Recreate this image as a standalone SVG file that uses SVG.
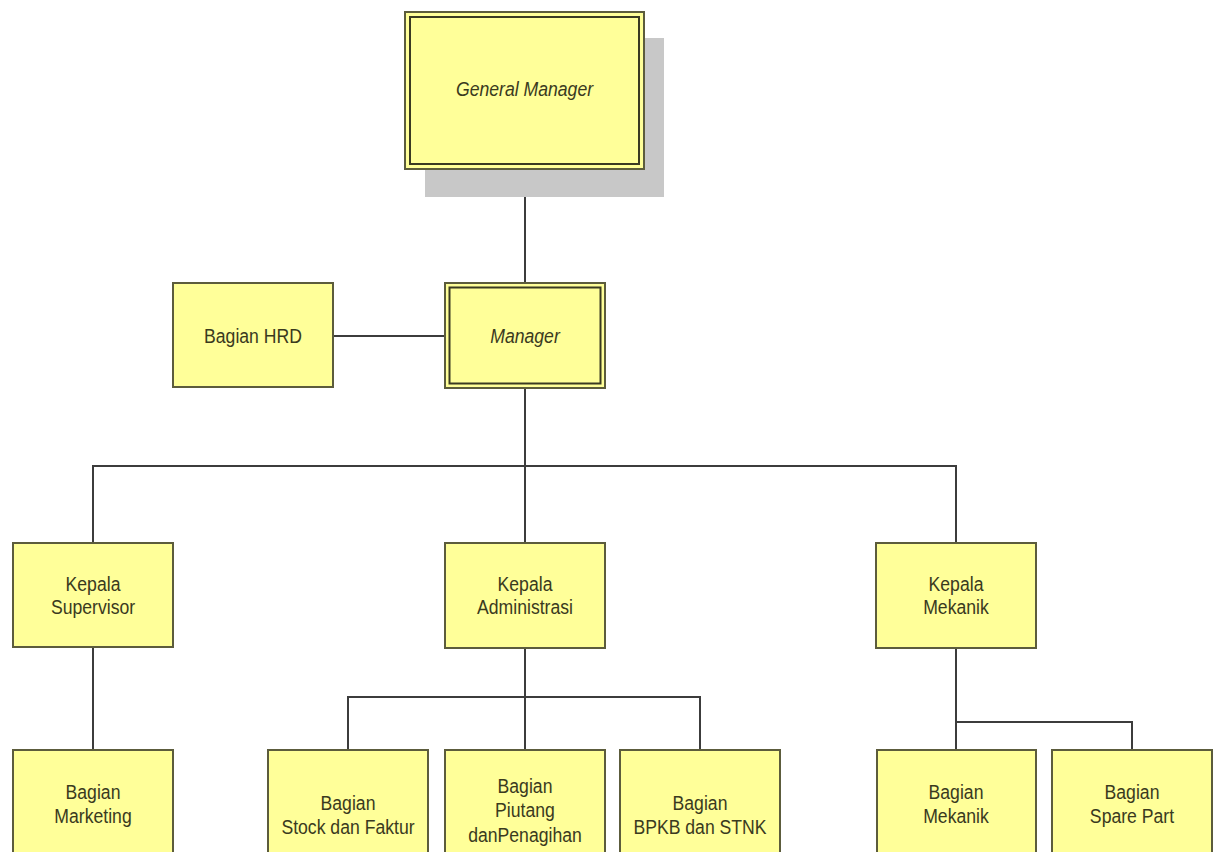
<svg xmlns="http://www.w3.org/2000/svg" width="1221" height="852" viewBox="0 0 1221 852">
<style>
.box{fill:#FFFF99;stroke:#5c5c3c;stroke-width:2}
.inner{fill:none;stroke:#3a3a22;stroke-width:2}
.shadow{fill:#c8c8c8}
.conn{stroke:#3c3c3c;stroke-width:2;fill:none}
text{font-family:"Liberation Sans",Arial,sans-serif;font-size:21px;fill:#3a3a1e;text-anchor:middle}
.it{font-style:italic}
</style>
<rect width="1221" height="852" fill="#ffffff"/>
<g id="connectors">
<path class="conn" d="M525 170V283"/>
<path class="conn" d="M333 336H445"/>
<path class="conn" d="M525 389V543"/>
<path class="conn" d="M93 543V466H956V543"/>
<path class="conn" d="M93 647V750"/>
<path class="conn" d="M525 648V750"/>
<path class="conn" d="M348 750V697H700V750"/>
<path class="conn" d="M956 648V722H1132V750"/>
<path class="conn" d="M956 722V750"/>
</g>
<g id="general-manager">
<rect class="shadow" x="425" y="38" width="239" height="159"/>
<rect class="box" x="405" y="12" width="239" height="157"/>
<rect class="inner" x="410" y="17" width="229" height="147"/>
<text class="it" transform="translate(524.5 96) scale(0.84 1)">General Manager</text>
</g>
<g id="bagian-hrd">
<rect class="box" x="173" y="283" width="160" height="104"/>
<text transform="translate(253 343) scale(0.84 1)">Bagian HRD</text>
</g>
<g id="manager">
<rect class="box" x="445" y="283" width="160" height="105"/>
<rect class="inner" x="449.5" y="287.5" width="151" height="96"/>
<text class="it" transform="translate(525 343) scale(0.84 1)">Manager</text>
</g>
<g id="kepala-supervisor">
<rect class="box" x="13" y="543" width="160" height="104"/>
<text transform="translate(93 591) scale(0.84 1)">Kepala</text>
<text transform="translate(93 614) scale(0.84 1)">Supervisor</text>
</g>
<g id="kepala-administrasi">
<rect class="box" x="445" y="543" width="160" height="105"/>
<text transform="translate(525 591) scale(0.84 1)">Kepala</text>
<text transform="translate(525 614) scale(0.84 1)">Administrasi</text>
</g>
<g id="kepala-mekanik">
<rect class="box" x="876" y="543" width="160" height="105"/>
<text transform="translate(956 591) scale(0.84 1)">Kepala</text>
<text transform="translate(956 614) scale(0.84 1)">Mekanik</text>
</g>
<g id="bagian-marketing">
<rect class="box" x="13" y="750" width="160" height="120"/>
<text transform="translate(93 799) scale(0.84 1)">Bagian</text>
<text transform="translate(93 823) scale(0.84 1)">Marketing</text>
</g>
<g id="bagian-stock">
<rect class="box" x="268" y="750" width="160" height="120"/>
<text transform="translate(348 810) scale(0.84 1)">Bagian</text>
<text transform="translate(348 834) scale(0.84 1)">Stock dan Faktur</text>
</g>
<g id="bagian-piutang">
<rect class="box" x="445" y="750" width="160" height="120"/>
<text transform="translate(525 793) scale(0.84 1)">Bagian</text>
<text transform="translate(525 817) scale(0.84 1)">Piutang</text>
<text transform="translate(525 842) scale(0.84 1)">danPenagihan</text>
</g>
<g id="bagian-bpkb">
<rect class="box" x="620" y="750" width="160" height="120"/>
<text transform="translate(700 810) scale(0.84 1)">Bagian</text>
<text transform="translate(700 834) scale(0.84 1)">BPKB dan STNK</text>
</g>
<g id="bagian-mekanik">
<rect class="box" x="877" y="750" width="159" height="120"/>
<text transform="translate(956 799) scale(0.84 1)">Bagian</text>
<text transform="translate(956 823) scale(0.84 1)">Mekanik</text>
</g>
<g id="bagian-spare-part">
<rect class="box" x="1052" y="750" width="160" height="120"/>
<text transform="translate(1132 799) scale(0.84 1)">Bagian</text>
<text transform="translate(1132 823) scale(0.84 1)">Spare Part</text>
</g>
</svg>
